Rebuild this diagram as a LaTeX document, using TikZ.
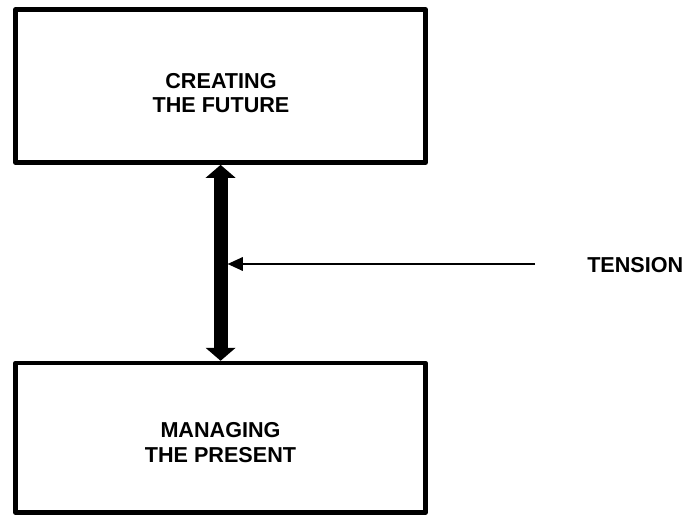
\documentclass[tikz,border=0pt]{standalone}
\usepackage{fontspec}
\setmainfont{Liberation Sans}
\usetikzlibrary{arrows.meta}
\begin{document}
\begin{tikzpicture}[x=0.75pt,y=-0.75pt,
  boxnode/.style={draw,line width=3.4pt,line join=round,minimum width=307.5pt,inner sep=0pt},
  boxtext/.style={font=\bfseries\fontsize{16.2pt}{18.4pt}\selectfont,align=center,inner sep=0pt},
  bigarrow/.style={line width=10.5pt,{Triangle[length=9.75pt,width=22pt]}-{Triangle[length=9.75pt,width=22pt]}},
  thinarrow/.style={line width=1.8pt,-{Triangle[length=11.5pt,width=10pt]}}
]
\useasboundingbox (0,0) rectangle (686,517);
\node[boxnode,minimum height=114.75pt] (future) at (220.6,86.1) {};
\node[boxnode,minimum height=112.1pt] (present) at (220.6,437.8) {};
\node[boxtext] (futuretext) at (221,93) {CREATING\\THE FUTURE};
\node[boxtext] (presenttext) at (220.5,442.3) {MANAGING\\THE PRESENT};
\node[boxtext,anchor=west] (tension) at (587,265.5) {TENSION};
\draw[bigarrow] (future.south) -- (present.north);
\coordinate (tailpt) at (535,264);
\coordinate (headpt) at (227.5,264);
\draw[thinarrow] (tailpt) -- (headpt);
\end{tikzpicture}
\end{document}
